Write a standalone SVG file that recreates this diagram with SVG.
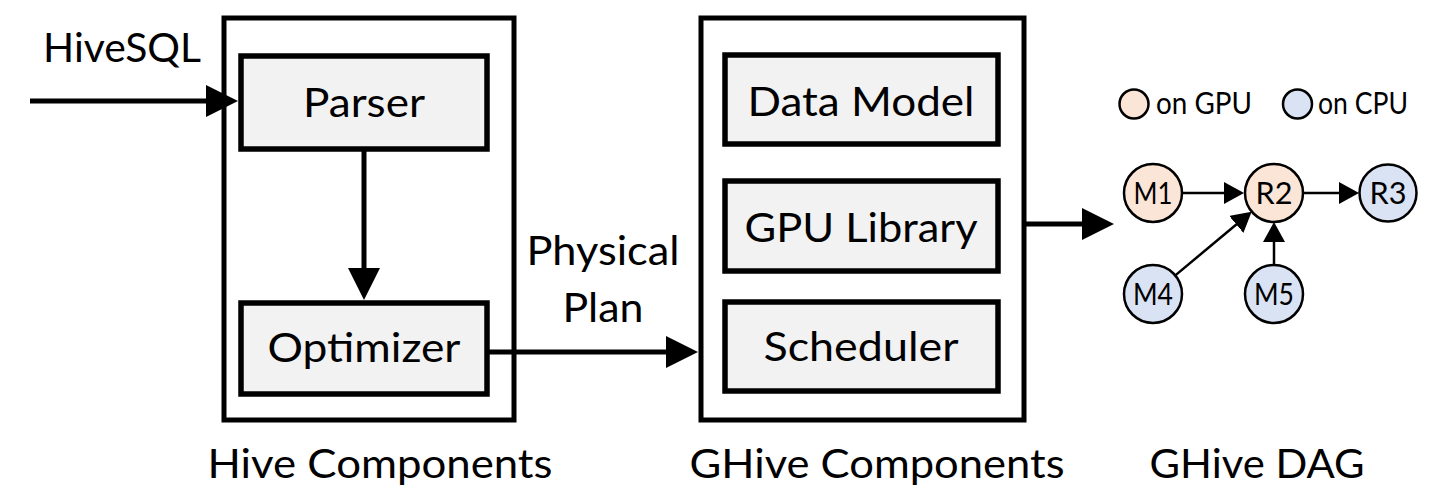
<svg xmlns="http://www.w3.org/2000/svg" width="1450" height="489" viewBox="0 0 1450 489">
<defs>
<style>
.frame{fill:#ffffff;stroke:#000;stroke-width:5}
.box{fill:#f2f2f2;stroke:#000;stroke-width:5.5}
.t{font-family:Lato,"Noto Sans",sans-serif;fill:#000}
.big{font-size:41px}
.sm{font-size:30px}
.nd{font-size:30px}
.gpu{fill:#fbe5d6;stroke:#000;stroke-width:2.5}
.cpu{fill:#dae3f3;stroke:#000;stroke-width:2.5}
.thick{stroke:#000;stroke-width:5;fill:none}
.thin{stroke:#000;stroke-width:2.5;fill:none}
</style>
<marker id="ah" viewBox="0 0 32 32" refX="24" refY="16" markerWidth="32" markerHeight="32" markerUnits="userSpaceOnUse" orient="auto">
<path d="M0,0 L32,16 L0,32 Z" fill="#000"/>
</marker>
<marker id="as" viewBox="0 0 20 22" refX="16" refY="11" markerWidth="20" markerHeight="22" markerUnits="userSpaceOnUse" orient="auto">
<path d="M0,0 L20,11 L0,22 Z" fill="#000"/>
</marker>
</defs>
<rect width="1450" height="489" fill="#fff"/>

<g id="hive">
<rect class="frame" x="224" y="18" width="290" height="402"/>
<text class="t big" x="380" y="478" text-anchor="middle" textLength="345" lengthAdjust="spacingAndGlyphs">Hive Components</text>
</g>
<g id="parser">
<rect class="box" x="241" y="56" width="246" height="93"/>
<text class="t big" x="364" y="117" text-anchor="middle" textLength="122" lengthAdjust="spacingAndGlyphs">Parser</text>
</g>
<g id="optimizer">
<rect class="box" x="241" y="303" width="246" height="91"/>
<text class="t big" x="364" y="362" text-anchor="middle" textLength="193" lengthAdjust="spacingAndGlyphs">Optimizer</text>
</g>

<g id="ghive">
<rect class="frame" x="701" y="18" width="323" height="402"/>
<text class="t big" x="877" y="478" text-anchor="middle" textLength="375" lengthAdjust="spacingAndGlyphs">GHive Components</text>
</g>
<g id="datamodel">
<rect class="box" x="725" y="55" width="273" height="89"/>
<text class="t big" x="861" y="116" text-anchor="middle" textLength="227" lengthAdjust="spacingAndGlyphs">Data Model</text>
</g>
<g id="gpulibrary">
<rect class="box" x="725" y="181" width="273" height="90"/>
<text class="t big" x="861" y="242" text-anchor="middle" textLength="233" lengthAdjust="spacingAndGlyphs">GPU Library</text>
</g>
<g id="scheduler">
<rect class="box" x="725" y="302" width="273" height="89"/>
<text class="t big" x="861" y="361" text-anchor="middle" textLength="195" lengthAdjust="spacingAndGlyphs">Scheduler</text>
</g>

<g id="labels">
<text class="t big" x="43" y="62" textLength="158" lengthAdjust="spacingAndGlyphs">HiveSQL</text>
<text class="t big" x="603" y="265" text-anchor="middle" textLength="153" lengthAdjust="spacingAndGlyphs">Physical</text>
<text class="t big" x="603" y="322" text-anchor="middle" textLength="81" lengthAdjust="spacingAndGlyphs">Plan</text>
<text class="t big" x="1257" y="478" text-anchor="middle" textLength="215" lengthAdjust="spacingAndGlyphs">GHive DAG</text>
</g>

<g id="legend">
<circle class="gpu" cx="1134" cy="104" r="14.5"/>
<text class="t sm" x="1156" y="114" textLength="96" lengthAdjust="spacingAndGlyphs">on GPU</text>
<circle class="cpu" cx="1297.5" cy="104" r="14.5"/>
<text class="t sm" x="1318" y="114" textLength="90" lengthAdjust="spacingAndGlyphs">on CPU</text>
</g>

<g id="M1"><circle class="gpu" cx="1153" cy="193" r="29"/><text class="t nd" x="1153" y="204" text-anchor="middle" textLength="39" lengthAdjust="spacingAndGlyphs">M1</text></g>
<g id="R2"><circle class="gpu" cx="1274" cy="193" r="29"/><text class="t nd" x="1274" y="204" text-anchor="middle" textLength="37" lengthAdjust="spacingAndGlyphs">R2</text></g>
<g id="R3"><circle class="cpu" cx="1388" cy="193" r="28.5"/><text class="t nd" x="1388" y="204" text-anchor="middle" textLength="37" lengthAdjust="spacingAndGlyphs">R3</text></g>
<g id="M4"><circle class="cpu" cx="1153" cy="294" r="29"/><text class="t nd" x="1153" y="305" text-anchor="middle" textLength="40" lengthAdjust="spacingAndGlyphs">M4</text></g>
<g id="M5"><circle class="cpu" cx="1274" cy="294" r="29"/><text class="t nd" x="1274" y="305" text-anchor="middle" textLength="40" lengthAdjust="spacingAndGlyphs">M5</text></g>

<g id="connectors">
<line class="thick" x1="30" y1="101" x2="230" y2="101" marker-end="url(#ah)"/>
<line class="thick" x1="364" y1="149" x2="364" y2="292" marker-end="url(#ah)"/>
<line class="thick" x1="487" y1="352" x2="690" y2="352" marker-end="url(#ah)"/>
<line class="thick" x1="1024" y1="224" x2="1106" y2="224" marker-end="url(#ah)"/>
<line class="thin" x1="1182" y1="193" x2="1240" y2="193" marker-end="url(#as)"/>
<line class="thin" x1="1303" y1="193" x2="1355" y2="193" marker-end="url(#as)"/>
<line class="thin" x1="1274" y1="265" x2="1274" y2="226" marker-end="url(#as)"/>
<line class="thin" x1="1175.3" y1="275.4" x2="1248.6" y2="214.2" marker-end="url(#as)"/>
</g>
</svg>
